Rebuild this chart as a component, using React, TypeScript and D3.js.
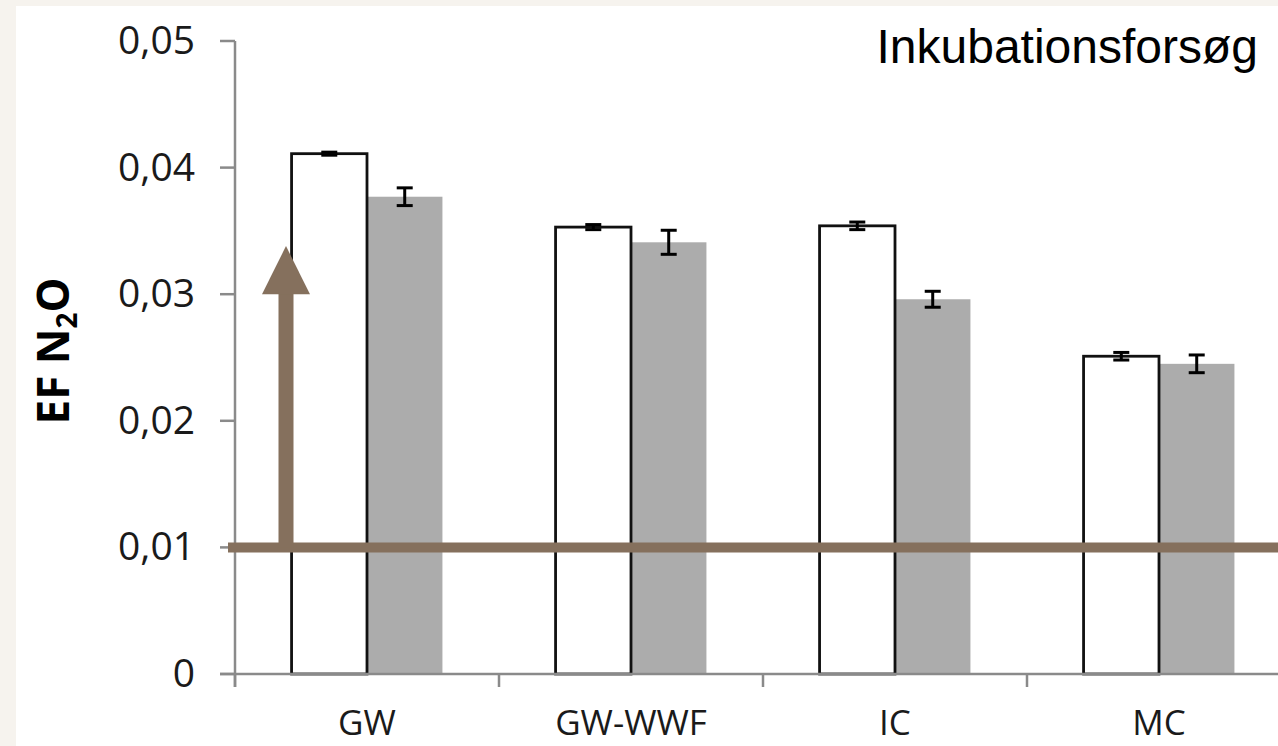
import React from "react";
import * as d3 from "d3";

const categories = ["GW", "GW-WWF", "IC", "MC"];
const seriesKeys = ["white", "grey"];
const whiteValues = [0.0411, 0.0353, 0.0354, 0.0251];
const whiteErrors = [0.00012, 0.0002, 0.0003, 0.0003];
const greyValues = [0.0377, 0.0341, 0.0296, 0.0245];
const greyErrors = [0.0007, 0.00095, 0.00063, 0.0007];
const yTicks = [0, 0.01, 0.02, 0.03, 0.04, 0.05];
const referenceLevel = 0.01;
const arrowBase = 0.0300;
const arrowTip = 0.0338;
const title = "Inkubationsforsøg";

const W = 1278;
const H = 746;
const BROWN = "#85705d";
const AXIS = "#8a8a8a";

export default function App() {
  const y = d3.scaleLinear().domain([0, 0.05]).range([674, 41]);
  const x0 = d3.scaleBand<string>().domain(categories).range([235, 235 + 264 * 4]).paddingInner(0).paddingOuter(0);
  const x1 = d3.scaleBand<string>().domain(seriesKeys).range([0, x0.bandwidth()]).paddingInner(0).paddingOuter(0.75);
  const bw = x1.bandwidth();
  const fmt = (d: number) => (d === 0 ? "0" : d.toFixed(2).replace(".", ","));
  const arrowX = (x0("GW") as number) + 51;
  const capW = 16;

  return (
    <svg width={W} height={H} style={{ position: "absolute", left: 0, top: 0, display: "block" }}>
      <rect x={0} y={0} width={W} height={H} fill="#f6f3ee" />
      <rect x={16} y={6} width={W - 16} height={H - 6} fill="#ffffff" />

      {/* y axis */}
      <line x1={235} x2={235} y1={y(0.05)} y2={687} stroke={AXIS} strokeWidth={2.5} />
      {yTicks.map((t) => (
        <g key={t}>
          <line x1={220} x2={235} y1={y(t)} y2={y(t)} stroke={AXIS} strokeWidth={2.5} />
          <text x={195} y={y(t) + 13} textAnchor="end" fontFamily="'Open Sans', sans-serif" fontSize={39} fill="#1a1a1a">
            {fmt(t)}
          </text>
        </g>
      ))}

      {/* bars */}
      {categories.map((c, i) => {
        const gx = x0(c) as number;
        const wx = gx + (x1("white") as number);
        const gxx = gx + (x1("grey") as number);
        return (
          <g key={c}>
            <rect x={gxx} y={y(greyValues[i])} width={bw} height={y(0) - y(greyValues[i])} fill="#acacac" />
            <rect x={wx} y={y(whiteValues[i])} width={bw} height={y(0) - y(whiteValues[i])} fill="#ffffff" stroke="#111" strokeWidth={2.8} />
          </g>
        );
      })}

      {/* x axis */}
      <line x1={220} x2={W} y1={y(0)} y2={y(0)} stroke={AXIS} strokeWidth={2.5} />
      {categories.map((c) => (
        <line key={c} x1={x0(c) as number} x2={x0(c) as number} y1={y(0)} y2={687} stroke={AXIS} strokeWidth={2.5} />
      ))}
      {categories.map((c) => (
        <text key={c} x={(x0(c) as number) + x0.bandwidth() / 2} y={735} textAnchor="middle" fontFamily="'Open Sans', sans-serif" fontSize={35} fill="#1a1a1a">
          {c}
        </text>
      ))}

      {/* reference line and arrow */}
      <line x1={228} x2={W} y1={y(referenceLevel)} y2={y(referenceLevel)} stroke={BROWN} strokeWidth={10} />
      <line x1={arrowX} x2={arrowX} y1={y(referenceLevel)} y2={y(arrowBase) - 1} stroke={BROWN} strokeWidth={15} />
      <path d={`M${arrowX},${y(arrowTip)} L${arrowX + 24},${y(arrowBase)} L${arrowX - 24},${y(arrowBase)} Z`} fill={BROWN} />

      {/* error bars */}
      {categories.map((c, i) => {
        const gx = x0(c) as number;
        const items = [
          { cx: gx + (x1("white") as number) + bw / 2, v: whiteValues[i], e: whiteErrors[i] },
          { cx: gx + (x1("grey") as number) + bw / 2, v: greyValues[i], e: greyErrors[i] },
        ];
        return items.map((it, j) => (
          <g key={c + j} stroke="#000" strokeWidth={3}>
            <line x1={it.cx} x2={it.cx} y1={y(it.v + it.e)} y2={y(it.v - it.e)} />
            <line x1={it.cx - capW / 2} x2={it.cx + capW / 2} y1={y(it.v + it.e)} y2={y(it.v + it.e)} />
            <line x1={it.cx - capW / 2} x2={it.cx + capW / 2} y1={y(it.v - it.e)} y2={y(it.v - it.e)} />
          </g>
        ));
      })}

      {/* y label */}
      <text transform={`translate(69,351) rotate(-90)`} textAnchor="middle" fontFamily="'Open Sans', sans-serif" fontWeight="bold" fontSize={44} fill="#000">
        EF N
        <tspan fontSize={28} dy={8}>2</tspan>
        <tspan dy={-8}>O</tspan>
      </text>

      <text x={1258} y={63} textAnchor="end" fontFamily="'Liberation Sans', Arial, sans-serif" fontSize={48} fill="#000">
        {title}
      </text>
    </svg>
  );
}
